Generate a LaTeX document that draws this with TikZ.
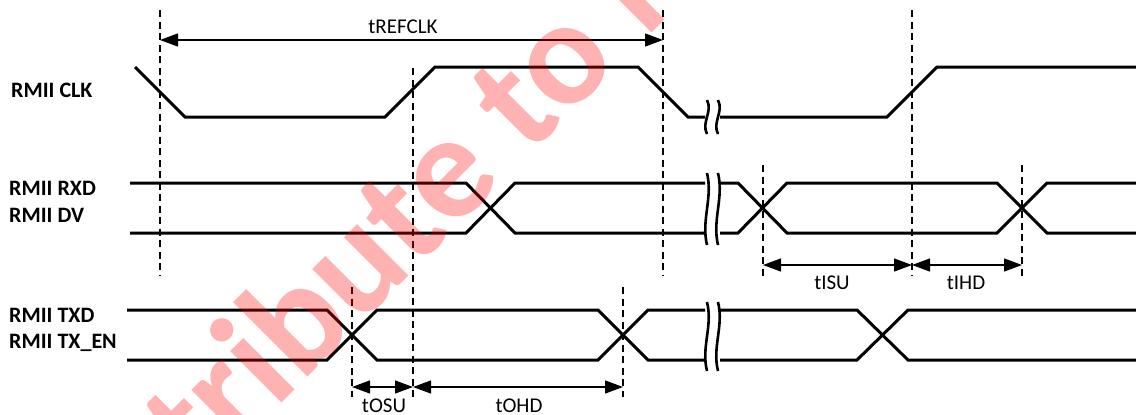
\documentclass[tikz,border=0pt]{standalone}
\usepackage{fontspec}
\setmainfont{Carlito}
\usetikzlibrary{arrows.meta, positioning, calc}

\tikzset{
  wave/.style={line width=3pt},
  guide/.style={line width=1.4pt, dash pattern=on 7pt off 4.5pt},
  span/.style={line width=1.3pt, {Triangle[length=18pt,width=13pt]}-{Triangle[length=18pt,width=13pt]}},
  signame/.style={anchor=base west, inner sep=0pt, font=\fontsize{22}{26}\selectfont\bfseries},
  spanlbl/.style={inner sep=0pt, font=\fontsize{21}{24}\selectfont},
  squiggle/.style={line width=2.6pt},
  stamp/.style={anchor=base west, inner sep=0pt, rotate=45, text=red, opacity=0.3, font=\fontsize{150}{150}\selectfont\bfseries}
}

% break mark: x, top, bottom
\newcommand{\gapmark}[3]{%
  \foreach \dx in {0,11}
    \draw[squiggle] (#1+\dx,#2) .. controls (#1+\dx+6,{#2+(#3-#2)*0.35}) and (#1+\dx-6,{#2+(#3-#2)*0.65}) .. (#1+\dx,#3);
}

\begin{document}
\begin{tikzpicture}[x=1pt,y=-1pt]
      \useasboundingbox (0,0) rectangle (1136,415);

      \def\clkhi{67}
      \def\clklo{117}
      \def\rxhi{183}
      \def\rxlo{233}
      \def\txhi{310}
      \def\txlo{360}

      % guide lines
      \draw[guide] (160,10) -- (160,275);
      \draw[guide] (413,68) -- (413,397);
      \draw[guide] (663,10) -- (663,275);
      \draw[guide] (912,10) -- (912,275);
      \draw[guide] (763,165) -- (763,277);
      \draw[guide] (1022,165) -- (1022,277);
      \draw[guide] (352,287) -- (352,397);
      \draw[guide] (623,287) -- (623,397);

      % RMII CLK
      \draw[wave] (135,\clkhi) -- (185,\clklo) -- (385,\clklo) -- (435,\clkhi) -- (638,\clkhi) -- (688,\clklo) -- (705,\clklo);
      \draw[wave] (720,\clklo) -- (887,\clklo) -- (937,\clkhi) -- (1136,\clkhi);
      \gapmark{707}{100}{134}

      % RMII RXD / DV
      \draw[wave] (130,\rxhi) -- (466,\rxhi) -- (515,\rxlo) -- (705,\rxlo);
      \draw[wave] (130,\rxlo) -- (466,\rxlo) -- (515,\rxhi) -- (705,\rxhi);
      \draw[wave] (720,\rxlo) -- (738,\rxlo) -- (787,\rxhi) -- (997,\rxhi) -- (1047,\rxlo) -- (1136,\rxlo);
      \draw[wave] (720,\rxhi) -- (738,\rxhi) -- (787,\rxlo) -- (997,\rxlo) -- (1047,\rxhi) -- (1136,\rxhi);
      \gapmark{707}{173}{245}

      % RMII TXD / TX_EN
      \draw[wave] (127,\txhi) -- (327,\txhi) -- (377,\txlo) -- (598,\txlo) -- (648,\txhi) -- (705,\txhi);
      \draw[wave] (127,\txlo) -- (327,\txlo) -- (377,\txhi) -- (598,\txhi) -- (648,\txlo) -- (705,\txlo);
      \draw[wave] (720,\txhi) -- (857,\txhi) -- (908,\txlo) -- (1136,\txlo);
      \draw[wave] (720,\txlo) -- (857,\txlo) -- (908,\txhi) -- (1136,\txhi);
      \gapmark{707}{302}{371}

      % timing spans
      \coordinate (ref0) at (160,40);
      \coordinate (ref1) at (663,40);
      \coordinate (isu0) at (763,265);
      \coordinate (isu1) at (912,265);
      \coordinate (ihd1) at (1022,265);
      \coordinate (osu0) at (352,387);
      \coordinate (osu1) at (413,387);
      \coordinate (ohd1) at (623,387);

      \draw[span] (ref0) -- (ref1);
      \draw[span] (isu0) -- (isu1);
      \draw[span] (isu1) -- (ihd1);
      \draw[span] (osu0) -- (osu1);
      \draw[span] (osu1) -- (ohd1);

      \node[spanlbl] (tref) at (403,27) {tREFCLK};
      \node[spanlbl] (tisu) at (832,283) {tISU};
      \node[spanlbl] (tihd) at (966,283) {tIHD};
      \node[spanlbl] (tosu) at (384,406) {tOSU};
      \node[spanlbl] (tohd) at (519,406) {tOHD};

      % signal names
      \node[signame] (nclk) at (11,97) {RMII CLK};
      \node[signame] (nrxd) at (9,195) {RMII RXD};
      \node[signame] (ndv) at (9,222) {RMII DV};
      \node[signame] (ntxd) at (9,322) {RMII TXD};
      \node[signame] (ntxen) at (9,348) {RMII TX\_EN};

      % watermark
      \node[stamp] (mark) at (201,484) {tribute to l};
\end{tikzpicture}
\end{document}
